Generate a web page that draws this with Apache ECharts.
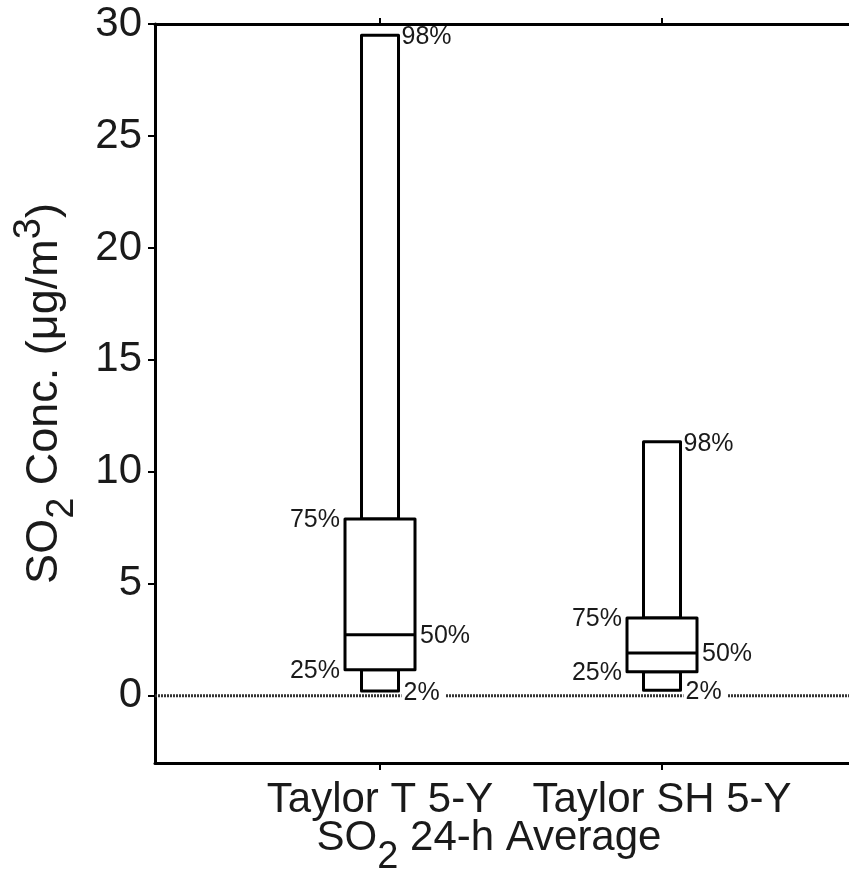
<!DOCTYPE html>
<html>
<head>
<meta charset="utf-8">
<script src="https://cdn.jsdelivr.net/npm/echarts@6/dist/echarts.min.js"></script>
<style>
  html, body { margin: 0; padding: 0; background: #fff; }
  #chart { width: 849px; height: 877px; }
</style>
</head>
<body>
<div id="chart"></div>
<script>
// Sites and their percentile values of 24-h SO2 (µg/m3)
const sites   = ['Taylor T 5-Y', 'Taylor SH 5-Y'];
const sitePos = [1, 2];
const p2  = [0.22, 0.25];
const p25 = [1.16, 1.07];
const p50 = [2.73, 1.91];
const p75 = [7.90, 3.47];
const p98 = [29.5, 11.35];
const pctNames = ['2%', '25%', '50%', '75%', '98%'];
const yTicks = [0, 5, 10, 15, 20, 25, 30];
const yMin = -3, yMax = 30;
const xMin = 0.2021, xMax = 2.6631;

const FONT = '"Liberation Sans", Arial, Helvetica, sans-serif';
const INK = '#1a1a1a';

const boxData = sites.map((s, i) => [sitePos[i], p2[i], p25[i], p50[i], p75[i], p98[i]]);

function renderBox(params, api) {
  const x = api.value(0);
  const ys = [1, 2, 3, 4, 5].map(d => api.coord([x, api.value(d)])[1]);
  const cx = api.coord([x, 0])[0];
  const [y2, y25, y50, y75, y98] = ys;
  const wide = 35, narrow = 18.5;
  const box = { stroke: '#000', fill: '#fff', lineWidth: 3, lineJoin: 'round' };
  const txt = (t, px, py, align, extra) => ({
    type: 'text', z2: 10,
    style: Object.assign({
      text: t, x: px, y: py, align: align, verticalAlign: 'middle',
      fontSize: 25, fontFamily: FONT, fill: INK
    }, extra || {})
  });
  return {
    type: 'group',
    children: [
      { type: 'rect', shape: { x: cx - narrow, y: y98, width: 2 * narrow, height: y75 - y98 }, style: box },
      { type: 'rect', shape: { x: cx - narrow, y: y25, width: 2 * narrow, height: y2 - y25 }, style: box },
      { type: 'rect', shape: { x: cx - wide, y: y75, width: 2 * wide, height: y25 - y75 }, style: box },
      { type: 'line', shape: { x1: cx - wide, y1: y50, x2: cx + wide, y2: y50 }, style: { stroke: '#000', lineWidth: 3 } },
      txt(pctNames[4], cx + narrow + 3, y98 + 2, 'left'),
      txt(pctNames[3], cx - wide - 5, y75 + 1, 'right'),
      txt(pctNames[2], cx + wide + 5, y50 + 1, 'left'),
      txt(pctNames[1], cx - wide - 5, y25 + 1, 'right'),
      txt(pctNames[0], cx + narrow + 3, y2 + 2, 'left', { backgroundColor: '#fff', padding: [0, 6, 0, 2] })
    ]
  };
}

const chart = echarts.init(document.getElementById('chart'), null, { renderer: 'canvas' });

const axisLineStyle = { color: '#000', width: 3 };
const tickStyle = { color: '#000', width: 2 };

chart.setOption({
  animation: false,
  backgroundColor: '#fff',
  grid: { left: 155, top: 24, width: 694, height: 739, containLabel: false, outerBoundsMode: 'none' },
  xAxis: [{
    type: 'value', min: xMin, max: xMax, position: 'bottom',
    axisLine: { show: true, onZero: false, lineStyle: axisLineStyle },
    axisTick: { show: true, customValues: sitePos, length: 7, lineStyle: tickStyle },
    axisLabel: {
      customValues: sitePos,
      formatter: v => sites[sitePos.indexOf(v)] || '',
      fontSize: 42, fontFamily: FONT, color: INK, margin: 16
    },
    splitLine: { show: false }
  }, {
    type: 'value', min: xMin, max: xMax, position: 'top',
    axisLine: { show: true, onZero: false, lineStyle: axisLineStyle },
    axisTick: { show: true, customValues: sitePos, length: 6, lineStyle: tickStyle },
    axisLabel: { show: false },
    splitLine: { show: false }
  }],
  yAxis: {
    type: 'value', min: yMin, max: yMax,
    axisLine: { show: true, onZero: false, lineStyle: axisLineStyle },
    axisTick: { show: true, customValues: yTicks, length: 7, lineStyle: tickStyle },
    axisLabel: { customValues: yTicks, fontSize: 42, fontFamily: FONT, color: INK, margin: 13 },
    splitLine: { show: false },
    name: '{a|SO}{b|2}{a| Conc. (μg/m}{c|3}{a|)}',
    nameLocation: 'middle',
    nameGap: 73,
    nameRotate: 90,
    nameTextStyle: {
      color: INK,
      rich: {
        a: { fontSize: 45, fontFamily: FONT, color: INK },
        b: { fontSize: 38, fontFamily: FONT, color: INK, padding: [36, 0, 0, 0] },
        c: { fontSize: 38, fontFamily: FONT, color: INK, padding: [0, 0, 30, 0] }
      }
    }
  },
  graphic: [{
    type: 'text', x: 489, y: 799,
    style: {
      text: '{a|SO}{b|2}{a| 24-h Average}',
      align: 'center', verticalAlign: 'top',
      rich: {
        a: { fontSize: 42, fontFamily: FONT, fill: INK },
        b: { fontSize: 38, fontFamily: FONT, fill: INK, padding: [40, 0, 0, 0] }
      }
    }
  }],
  series: [{
    type: 'line', z: 1, silent: true, symbol: 'none',
    data: [[xMin, 0], [xMax, 0]],
    lineStyle: { color: '#333', width: 3, type: [2, 1] }
  }, {
    type: 'custom', z: 2, silent: true,
    renderItem: renderBox,
    encode: { x: 0, y: [1, 2, 3, 4, 5] },
    data: boxData
  }]
});
</script>
</body>
</html>
